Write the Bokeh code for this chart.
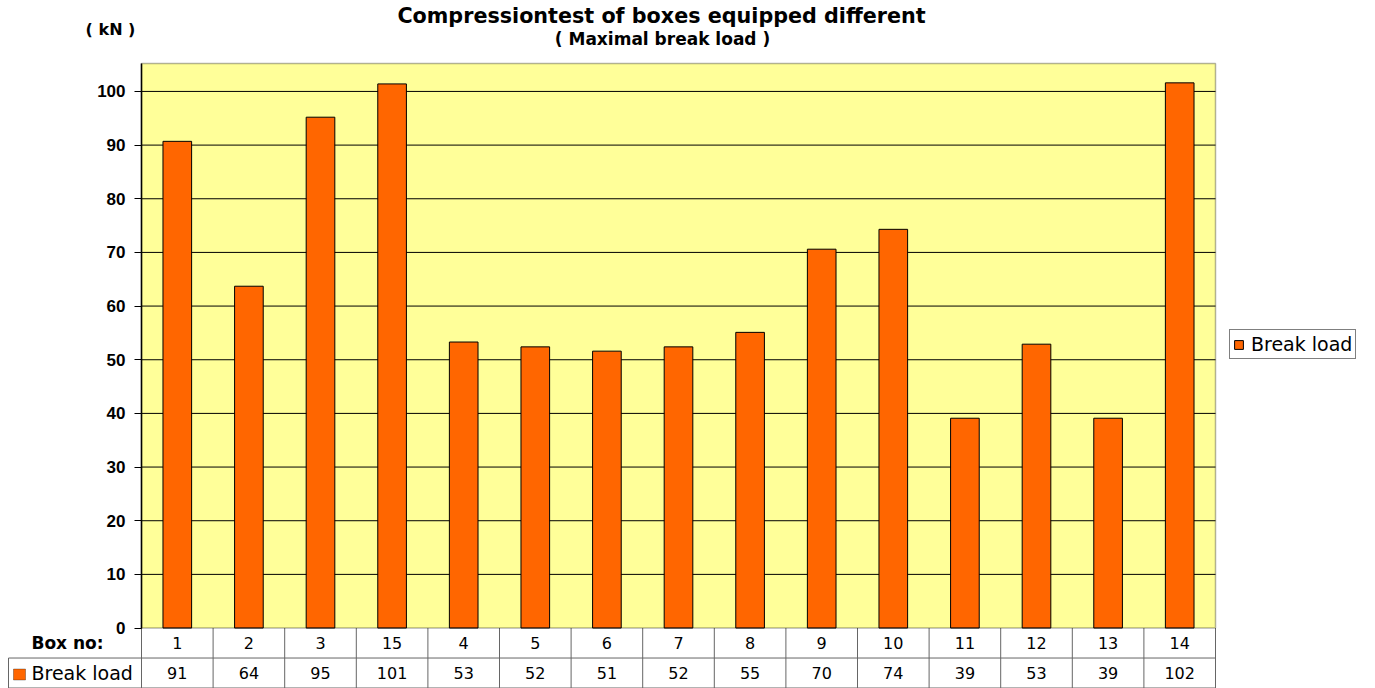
from bokeh.plotting import figure
from bokeh.models import (Label, BoxAnnotation, FixedTicker, Legend, LegendItem, Range1d, LinearAxis)
from bokeh.core.properties import value
from bokeh.embed import file_html
from bokeh.resources import INLINE

# ---- data ----
box_labels = ["1", "2", "3", "15", "4", "5", "6", "7", "8", "9", "10", "11", "12", "13", "14"]
break_load = [90.7, 63.7, 95.2, 101.4, 53.3, 52.4, 51.6, 52.4, 55.1, 70.6, 74.3, 39.1, 52.9, 39.1, 101.6]
table_values = ["91", "64", "95", "101", "53", "52", "51", "52", "55", "70", "74", "39", "53", "39", "102"]
y_ticks = [0, 10, 20, 30, 40, 50, 60, 70, 80, 90, 100]

title_text = "Compressiontest of boxes equipped different"
subtitle_text = "( Maximal break load )"
unit_text = "( kN )"
row1_label = "Box no:"
series_name = "Break load"

FONT = "Liberation Sans"
WIDE = "DejaVu Sans"
W, H = 1375, 688
# layout in pixels of the reference
PLOT_L, PLOT_R, ZERO_Y, PX_PER_Y = 141, 1215, 628, 5.37
n = len(box_labels)
PX_PER_X = (PLOT_R - PLOT_L) / n


def X(px):
    return 0.5 + (px - PLOT_L) / PX_PER_X


def Y(py):
    return (ZERO_Y - py) / PX_PER_Y


Y_TOP = Y(63)
TABLE_H = Y(688)  # negative
xs = list(range(1, n + 1))

p = figure(width=W, height=H, output_backend="svg", toolbar_location=None,
           x_range=Range1d(X(0), X(W)), y_range=Range1d(Y(H + 0.5), Y(0)),
           x_axis_location=None, y_axis_location=None,
           min_border=0, background_fill_color="white", border_fill_color="white")
p.outline_line_color = None
p.grid.visible = False

# yellow plot area
p.add_layout(BoxAnnotation(left=0.5, right=n + 0.5, bottom=0, top=Y_TOP,
                           fill_color="#FFFF99", fill_alpha=1, line_color=None, level="image"))

# gridlines
grid_ticks = [t for t in y_ticks if t > 0]
p.segment(x0=[0.5] * len(grid_ticks), y0=grid_ticks, x1=[n + 0.5] * len(grid_ticks), y1=grid_ticks,
          line_color="black", line_width=1, level="underlay")

# y axis at the left edge of the plot area
yaxis = LinearAxis(fixed_location=0.5, ticker=FixedTicker(ticks=y_ticks), bounds=(0, Y_TOP))
yaxis.major_label_text_font = FONT
yaxis.major_label_text_font_style = "bold"
yaxis.major_label_text_font_size = "17px"
yaxis.major_label_text_color = "black"
yaxis.major_tick_in = 0
yaxis.major_tick_out = 7
yaxis.major_tick_line_color = "black"
yaxis.minor_tick_line_color = None
yaxis.axis_line_color = "black"
yaxis.axis_line_width = 1.5
yaxis.major_label_standoff = 9
p.add_layout(yaxis, "left")

# bars
bars = p.vbar(x=xs, top=break_load, width=0.4, bottom=0,
              fill_color="#FF6600", line_color="black", line_width=1)

# frame border of plot area
p.add_layout(BoxAnnotation(left=0.5, right=n + 0.5, bottom=0, top=Y_TOP,
                           fill_alpha=0, line_color="black", line_width=1.5))

# data table beneath the plot
mid = TABLE_H / 2
vx = [i + 0.5 for i in range(n + 1)]
p.segment(x0=vx, y0=[TABLE_H] * (n + 1), x1=vx, y1=[0] * (n + 1),
          line_color="#666666", line_width=1)
p.segment(x0=[0.5, X(8)], y0=[mid, TABLE_H], x1=[n + 0.5, n + 0.5], y1=[mid, TABLE_H],
          line_color="#666666", line_width=1)
p.segment(x0=[X(8), X(8)], y0=[mid, mid], x1=[X(8), 0.5], y1=[TABLE_H, mid],
          line_color="#666666", line_width=1)
p.text(x=xs, y=[mid / 2] * n, text=box_labels, text_align="center", text_baseline="middle",
       text_font=value(WIDE), text_font_size="16px", text_color="black")
p.text(x=xs, y=[mid * 1.5] * n, text=table_values, text_align="center", text_baseline="middle",
       text_font=value(WIDE), text_font_size="16px", text_color="black")

# row labels
p.add_layout(Label(x=X(67), y=mid / 2, text=row1_label, text_align="center",
                   text_baseline="middle", text_font=WIDE, text_font_style="bold",
                   text_font_size="17px", text_color="black"))
p.add_layout(BoxAnnotation(left=X(13), right=X(25), bottom=Y(680), top=Y(669),
                           fill_color="#FF6600", fill_alpha=1, line_color="black", line_width=1))
p.add_layout(Label(x=X(31), y=mid * 1.5, text=series_name, text_align="left",
                   text_baseline="middle", text_font=WIDE, text_font_size="19px", text_color="black"))

# titles
p.add_layout(Label(x=X(661), y=Y(16), text=title_text, text_align="center",
                   text_baseline="middle", text_font=WIDE, text_font_style="bold",
                   text_font_size="20.7px", text_color="black"))
p.add_layout(Label(x=X(662), y=Y(39), text=subtitle_text, text_align="center",
                   text_baseline="middle", text_font=WIDE, text_font_style="bold",
                   text_font_size="17px", text_color="black"))
p.add_layout(Label(x=X(110), y=Y(29), text=unit_text, text_align="center",
                   text_baseline="middle", text_font=WIDE, text_font_style="bold",
                   text_font_size="16px", text_color="black"))

# legend
legend = Legend(items=[LegendItem(label=series_name, renderers=[bars])],
                location=(1229, H - 359), border_line_color="black", border_line_width=1,
                background_fill_color="white", background_fill_alpha=1,
                label_text_font=WIDE, label_text_font_size="19px", label_text_color="black",
                glyph_width=11, glyph_height=11, label_standoff=7, padding=3, margin=0,
                label_height=17)
p.add_layout(legend, "center")

open("out.html", "w").write(file_html(p, INLINE))
